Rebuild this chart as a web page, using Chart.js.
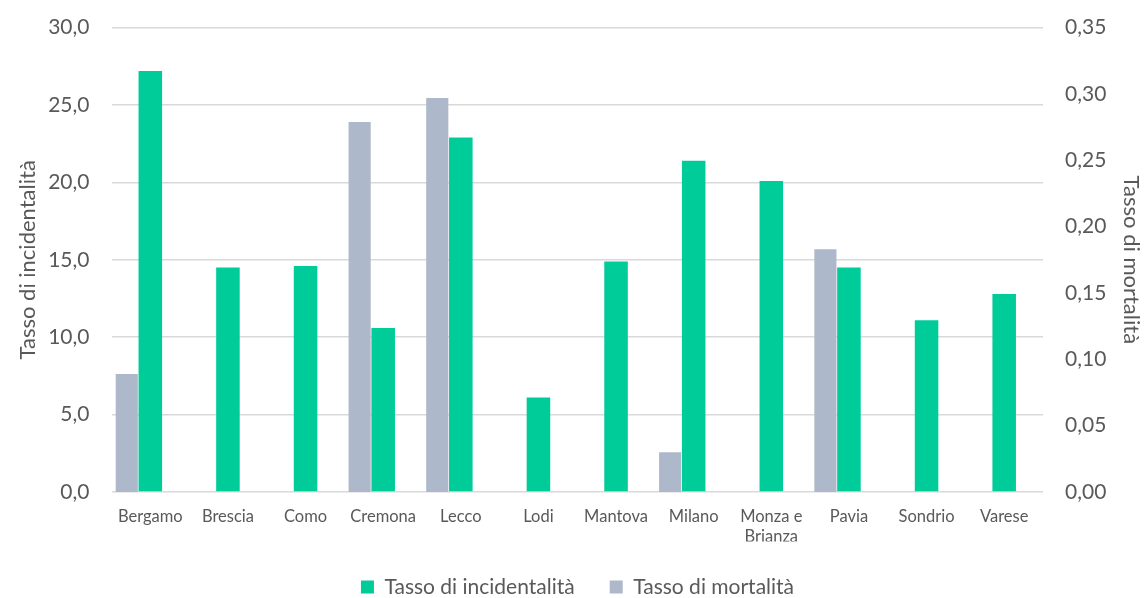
<!DOCTYPE html>
<html>
<head>
<meta charset="utf-8">
<script src="https://cdn.jsdelivr.net/npm/chart.js@4/dist/chart.umd.min.js"></script>
<style>
  html, body { margin: 0; padding: 0; background: #fff; }
  #wrap { width: 1144px; height: 598px; }
</style>
</head>
<body>
<div id="wrap"><canvas id="chart" width="1144" height="598"></canvas></div>
<script>
// Province
const province = ['Bergamo', 'Brescia', 'Como', 'Cremona', 'Lecco', 'Lodi', 'Mantova',
    'Milano', ['Monza e', 'Brianza'], 'Pavia', 'Sondrio', 'Varese'];

// Tasso di incidentalità (asse sinistro)
const incidentalita = [27.2, 14.5, 14.6, 10.6, 22.9, 6.1, 14.9, 21.4, 20.1, 14.5, 11.1, 12.8];

// Tasso di mortalità (asse destro)
const mortalita = [0.089, null, null, 0.279, 0.297, null, null, 0.030, null, 0.183, null, null];

// serie vuota: tiene la barra verde centrata sulla categoria (come nel grafico Excel)
const vuoto = province.map(() => null);

const testo = '#595959';
const griglia = '#d9d9d9';
const font = 'Lato, "Open Sans", sans-serif';

// altezza fissa della legenda, così il testo resta in basso
const altezzaLegenda = {
    id: 'altezzaLegenda',
    beforeInit(chart) {
        const legend = chart.legend;
        const fit = legend.fit;
        legend.fit = function() {
            fit.call(this);
            this.height = 56.5;
        };
    }
};

// niente margine extra sopra/sotto per le etichette degli assi y
function senzaPadding(s, w) {
    s.width = w;
    s.paddingTop = 0;
    s.paddingBottom = 0;
}

new Chart(document.getElementById('chart'), {
    type: 'bar',
    data: {
        labels: province,
        datasets: [{
            label: 'Tasso di mortalità',
            data: mortalita,
            backgroundColor: '#adb9ca',
            barPercentage: 0.94,
            yAxisID: 'y2'
        }, {
            label: 'Tasso di incidentalità',
            data: incidentalita,
            backgroundColor: '#00cc99',
            barPercentage: 1.0,
            yAxisID: 'y'
        }, {
            label: '',
            data: vuoto,
            yAxisID: 'y'
        }]
    },
    plugins: [altezzaLegenda],
    options: {
        responsive: false,
        animation: false,
        layout: { padding: { top: 27.7, left: 11, right: 0, bottom: 0 } },
        datasets: {
            bar: { categoryPercentage: 0.91 }
        },
        plugins: {
            legend: {
                position: 'bottom',
                labels: {
                    boxWidth: 13,
                    boxHeight: 13,
                    padding: 35,
                    color: testo,
                    font: { family: font, size: 21 },
                    filter: item => item.text !== '',
                    sort: (a, b) => b.datasetIndex - a.datasetIndex
                }
            },
            tooltip: { enabled: false }
        },
        scales: {
            x: {
                grid: { display: false, drawTicks: false },
                border: { display: false },
                ticks: { color: testo, font: { family: font, size: 16.5 }, maxRotation: 0, padding: 15 },
                afterFit: s => { s.height = 49.5; }
            },
            y: {
                position: 'left',
                min: 0,
                max: 30,
                ticks: {
                    stepSize: 5,
                    color: testo,
                    font: { family: font, size: 21 },
                    padding: 22,
                    callback: v => v.toFixed(1).replace('.', ',')
                },
                grid: { color: griglia, lineWidth: 1.5, drawTicks: false },
                border: { display: false },
                title: { display: true, text: 'Tasso di incidentalità', color: testo, font: { family: font, size: 22 } },
                afterFit: s => senzaPadding(s, 100.5)
            },
            y2: {
                position: 'right',
                min: 0,
                max: 0.35,
                ticks: {
                    stepSize: 0.05,
                    color: testo,
                    font: { family: font, size: 21 },
                    padding: 22,
                    callback: v => v.toFixed(2).replace('.', ',')
                },
                grid: { display: false, drawTicks: false },
                border: { display: false },
                title: { display: true, text: 'Tasso di mortalità', color: testo, font: { family: font, size: 22 }, padding: 0 },
                afterFit: s => senzaPadding(s, 101)
            }
        }
    }
});
</script>
</body>
</html>
